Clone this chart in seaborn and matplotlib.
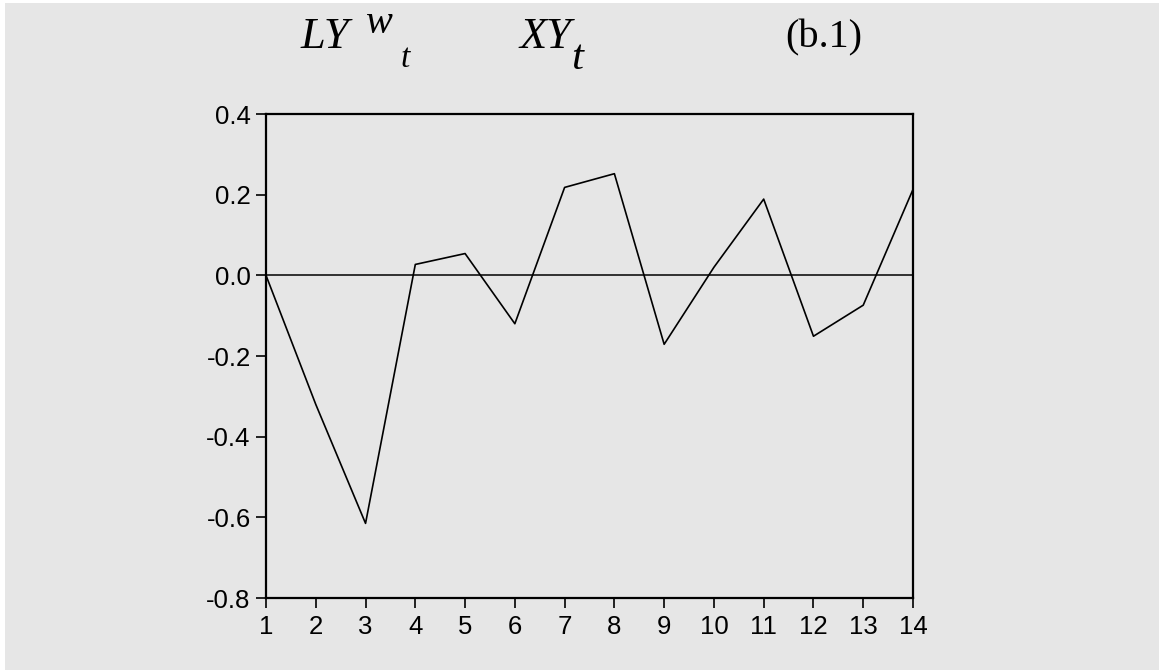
import numpy as np
import pandas as pd
import seaborn as sns
import matplotlib.pyplot as plt
from matplotlib.patches import Rectangle
from matplotlib.ticker import FormatStrFormatter

# values
periods = list(range(1, 15))
response = [0.0, -0.32, -0.615, 0.027, 0.054, -0.12, 0.218, 0.252,
            -0.171, 0.02, 0.189, -0.151, -0.074, 0.213]
yticks = [-0.8, -0.6, -0.4, -0.2, 0.0, 0.2, 0.4]

bg = "#e6e6e6"
sns.set_theme(style="ticks")
plt.rcParams["font.family"] = ["Liberation Sans", "DejaVu Sans"]
plt.rcParams["axes.unicode_minus"] = False

df = pd.DataFrame({"t": periods, "v": response})

fig = plt.figure(figsize=(11.59, 6.70), dpi=100)
fig.patch.set_facecolor("white")
fig.patches.append(Rectangle((5 / 1159, 0), 1, (670 - 3) / 670, transform=fig.transFigure,
                             facecolor=bg, edgecolor="none", zorder=-10))

ax = fig.add_axes([266 / 1159, 72 / 670, 647 / 1159, 484 / 670])
ax.set_facecolor(bg)
ax.axhline(0, color="black", lw=1.1, zorder=1)
sns.lineplot(data=df, x="t", y="v", ax=ax, color="black", lw=1.2, zorder=2)

ax.set_xlim(1, 14)
ax.set_ylim(-0.8, 0.4)
ax.set_xticks(periods)
ax.set_yticks(yticks)
ax.yaxis.set_major_formatter(FormatStrFormatter("%.1f"))
ax.set_xlabel("")
ax.set_ylabel("")
for s in ax.spines.values():
    s.set_visible(True)
    s.set_linewidth(1.6)
    s.set_color("black")
ax.tick_params(axis="both", direction="out", length=7, width=1.2, colors="black",
               labelsize=18.5, top=False, right=False)
ax.tick_params(axis="x", pad=5)
ax.tick_params(axis="y", pad=4)

# title pieces, serif italic
serif = ["Liberation Serif", "DejaVu Serif"]
H = 670.0
W = 1159.0
kw = dict(family=serif, color="black", ha="left", va="baseline")
fig.text(301 / W, 1 - 48 / H, "LY", style="italic", fontsize=32, **kw)
fig.text(365 / W, 1 - 33 / H, "w", style="italic", fontsize=29, **kw)
fig.text(401 / W, 1 - 67 / H, "t", style="italic", fontsize=24, **kw)
fig.text(519 / W, 1 - 48 / H, "XY", style="italic", fontsize=32, **kw)
fig.text(571 / W, 1 - 69 / H, "t", style="italic", fontsize=31, **kw)
fig.text(785 / W, 1 - 47 / H, "(b.1)", fontsize=29, **kw)

fig.savefig("out.png", dpi=100, facecolor=fig.get_facecolor())
